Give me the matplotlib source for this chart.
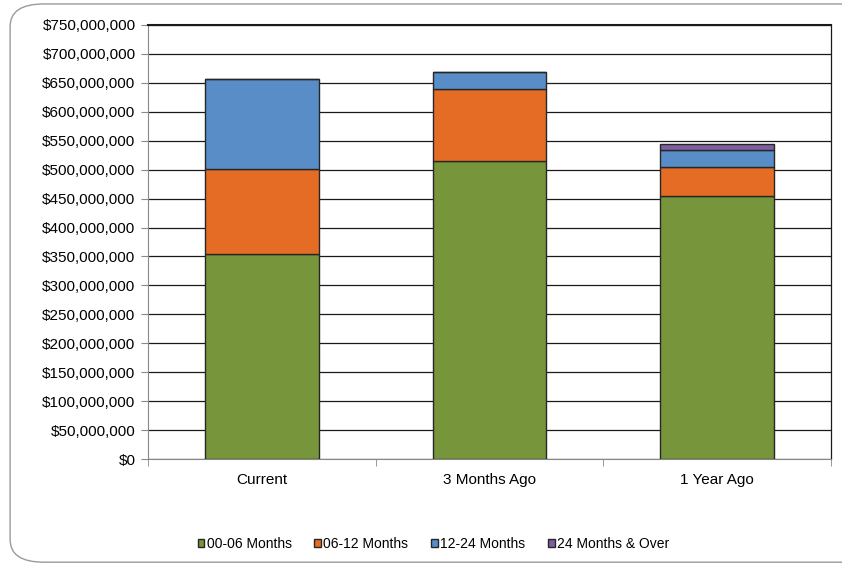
import matplotlib
matplotlib.use("Agg")
import matplotlib.pyplot as plt
from matplotlib.patches import FancyBboxPatch
from matplotlib.ticker import FuncFormatter, MultipleLocator, FixedLocator
import numpy as np

plt.rcParams["font.family"] = ["Liberation Sans", "DejaVu Sans"]

categories = ["Current", "3 Months Ago", "1 Year Ago"]
series_names = ["00-06 Months", "06-12 Months", "12-24 Months", "24 Months & Over"]
m00_06 = [354e6, 514.5e6, 454.5e6]
m06_12 = [147.5e6, 124.5e6, 50e6]
m12_24 = [154.5e6, 30e6, 30e6]
m24_over = [0, 0, 10e6]
colors = ["#77963b", "#e56c25", "#588dc8", "#7d5fa0"]

fig = plt.figure(figsize=(8.42, 5.65), dpi=100)
fig.patches.append(FancyBboxPatch((0.012, 0.005), 1.1, 0.988,
                                  boxstyle="round,pad=0,rounding_size=0.04",
                                  transform=fig.transFigure, fc="none",
                                  ec="#9a9a9a", lw=1.0, zorder=0))
ax = fig.add_axes([0.1758, 0.1876, 0.8112, 0.7682])

x = np.arange(len(categories))
bottom = np.zeros(len(categories))
for vals, name, col in zip([m00_06, m06_12, m12_24, m24_over], series_names, colors):
    vals = np.array(vals)
    ax.bar(x, vals, 0.5, bottom=bottom, color=col, edgecolor="#262626",
           linewidth=1.0, label=name, zorder=3)
    bottom += vals

ax.set_xlim(-0.5, 2.5)
ax.set_ylim(0, 750e6)
ax.yaxis.set_major_locator(MultipleLocator(50e6))
ax.yaxis.set_major_formatter(FuncFormatter(lambda v, p: f"${v:,.0f}"))
ax.grid(axis="y", color="#1a1a1a", lw=0.9, zorder=1)
ax.set_axisbelow(True)
ax.set_xticks(x)
ax.set_xticklabels(categories)
# category boundary ticks
ax.xaxis.set_minor_locator(FixedLocator(np.arange(len(categories) + 1) - 0.5))
ax.tick_params(axis="x", which="minor", length=5, color="#888888")
ax.tick_params(axis="x", which="major", length=0, labelsize=11, pad=10)
ax.tick_params(axis="y", length=5, color="#888888", labelsize=11, pad=4)
for s in ["top", "right"]:
    ax.spines[s].set_color("#1a1a1a")
ax.spines["top"].set_linewidth(1.5)
ax.spines["right"].set_linewidth(0.9)
ax.spines["left"].set_color("#888888")
ax.spines["bottom"].set_color("#888888")

handles, labels = ax.get_legend_handles_labels()
fig.legend(handles, labels, loc="center", bbox_to_anchor=(0.515, 0.037), ncol=4,
           frameon=False, fontsize=10, handlelength=0.5, handleheight=0.5,
           handletextpad=0.15, columnspacing=1.65)

fig.savefig("out.png", dpi=100)
